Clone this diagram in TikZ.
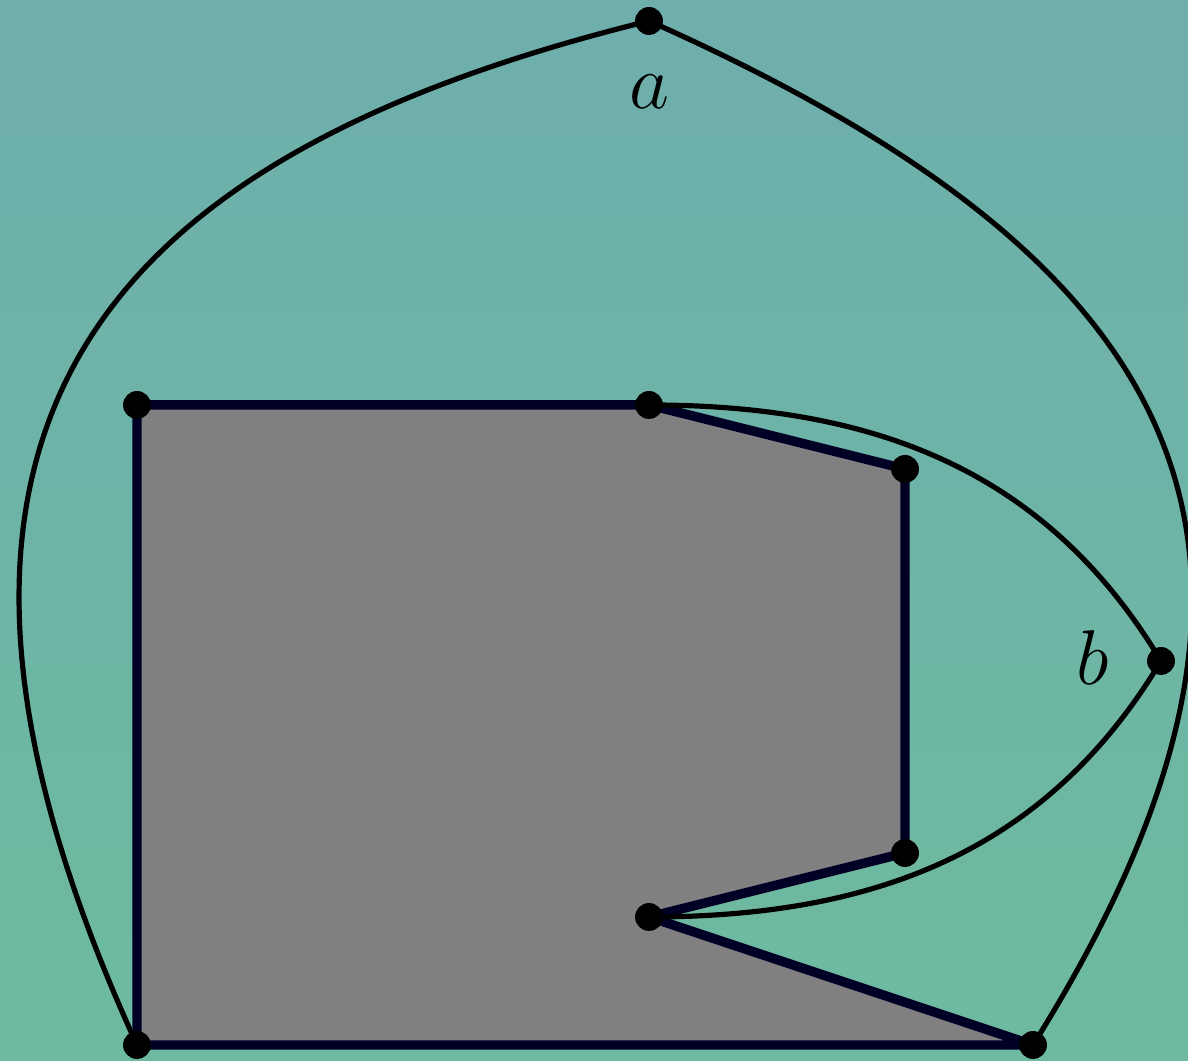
\documentclass[tikz,border=0pt]{standalone}
\begin{document}
\begin{tikzpicture}[x=1cm,y=1cm,
  outline/.style={line width=2.1pt,draw={rgb,255:red,0;green,0;blue,36},line join=round},
  edgeline/.style={line width=1.15pt,draw=black},
  dot/.style={circle,fill=black,inner sep=0pt,minimum size=6.2pt},
  lbl/.style={font=\fontsize{16.5}{20}\selectfont}]
\definecolor{bgtop}{RGB}{110,174,172}
\definecolor{bgbot}{RGB}{110,186,160}
\useasboundingbox (-1.0703,-0.125) rectangle (8.2109,8.164);
\shade[top color=bgtop,bottom color=bgbot] (-1.0703,-0.125) rectangle (8.2109,8.164);
\coordinate (p1) at (0,5);
\coordinate (p2) at (4,5);
\coordinate (p3) at (6,4.5);
\coordinate (p4) at (6,1.5);
\coordinate (p5) at (4,1);
\coordinate (p6) at (7,0);
\coordinate (p7) at (0,0);
\coordinate (a) at (4,8);
\coordinate (b) at (8,3);
\fill[gray] (p1) -- (p2) -- (p3) -- (p4) -- (p5) -- (p6) -- (p7) -- cycle;
\draw[outline] (p1) -- (p2) -- (p3) -- (p4) -- (p5) -- (p6) -- (p7) -- cycle;
\draw[edgeline] (a) .. controls (-0.175,6.97) and (-2.25,4.91) .. (p7);
\draw[edgeline] (a) .. controls (8.2,6.13) and (9.44,3.9) .. (p6);
\draw[edgeline] (p2) to[out=0,in=121] (b);
\draw[edgeline] (b) to[out=239,in=0] (p5);
\foreach \v in {p1,p2,p3,p4,p5,p6,p7,a,b} \node[dot] (n\v) at (\v) {};
\node[lbl] (la) at (4,7.45) {$a$};
\node[lbl] (lb) at (7.47,3.03) {$b$};
\end{tikzpicture}
\end{document}
